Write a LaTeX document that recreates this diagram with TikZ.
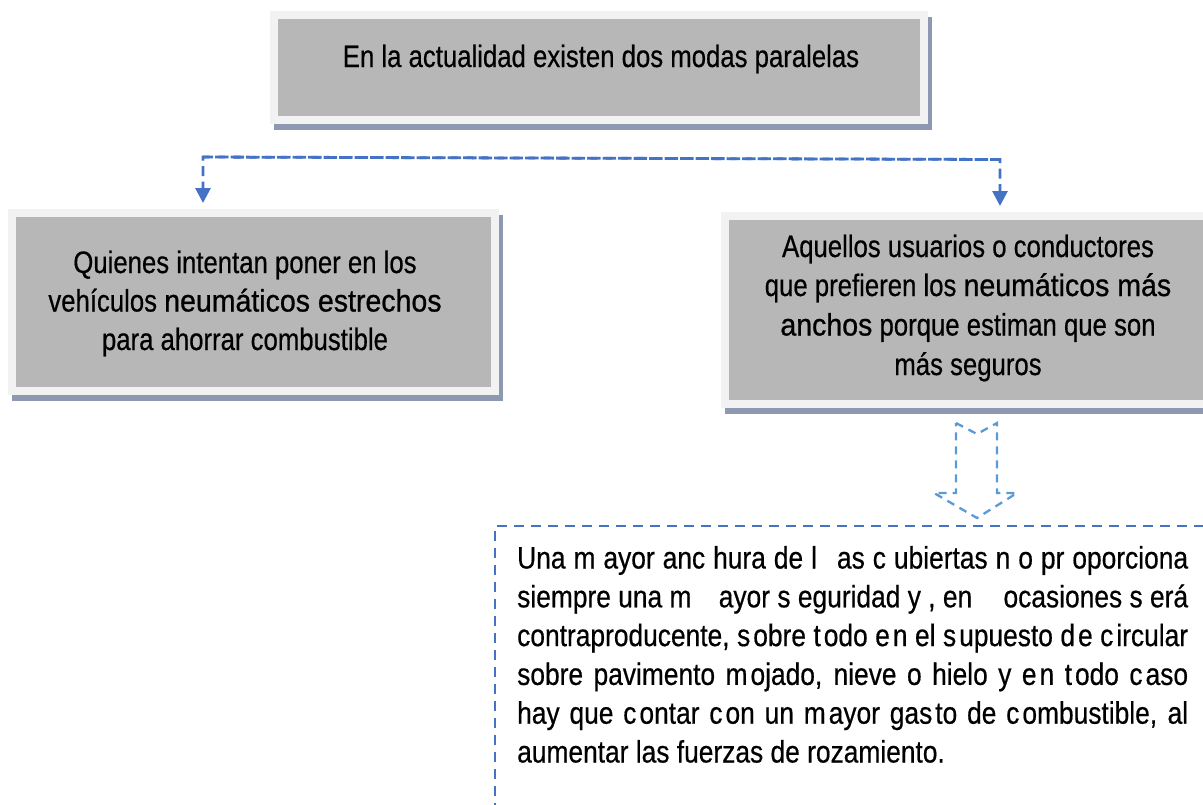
\documentclass[tikz,border=0pt]{standalone}
\usepackage{fontspec}
\setmainfont{Liberation Sans}
\newfontfamily\narf{Liberation Sans}[FakeStretch=0.83,FakeBold=0.5]
\newfontfamily\widf{Liberation Sans}[FakeStretch=0.92,FakeBold=0.8]
\newfontfamily\botf{Liberation Sans}[FakeStretch=0.85,FakeBold=0.5]
\usetikzlibrary{arrows.meta}
\definecolor{boxgray}{RGB}{183,183,183}
\definecolor{boxlight}{RGB}{242,242,242}
\definecolor{shadowc}{RGB}{141,153,176}
\definecolor{connblue}{RGB}{68,114,196}
\definecolor{arrowblue}{RGB}{91,155,213}
\newcommand\sg{\kern3pt}
\begin{document}
\begin{tikzpicture}[x=1pt,y=-1pt,
  graybox/.style={rectangle, fill=boxgray, draw=boxlight, line width=8pt, inner sep=0pt,
    preaction={draw=shadowc, fill=shadowc, line width=8pt, transform canvas={xshift=4pt,yshift=-6pt}}},
  txt/.style={inner sep=0pt, anchor=base, font=\narf\fontsize{31}{37}\selectfont},
  bottxt/.style={inner sep=0pt, anchor=base west, font=\botf\fontsize{31}{37}\selectfont},
  conn/.style={draw=connblue, line width=2.8pt, dash pattern=on 10pt off 5.5pt,
    -{Triangle[width=15pt,length=15pt]}},
  hollow/.style={draw=arrowblue, line width=2.3pt, dash pattern=on 8pt off 6pt, line join=miter},
  dbox/.style={draw=connblue, line width=2.8pt, dash pattern=on 10pt off 7pt}
]
\useasboundingbox (0,0) rectangle (1203,804);
\clip (0,0) rectangle (1203,804);

% top box
\node[graybox, minimum width=650pt, minimum height=105pt] (top) at (599,67.5) {};
\node[txt] (toptxt) at (601,67) {En la actualidad existen dos modas paralelas};

% left box
\node[graybox, minimum width=483pt, minimum height=178pt] (lbox) at (253.5,302) {};
\node[txt] (l1) at (245,273) {Quienes intentan poner en los};
\node[txt] (l2) at (245,311.5) {vehículos {\widf neumáticos estrechos}};
\node[txt] (l3) at (245,350) {para ahorrar combustible};

% right box
\node[graybox, minimum width=486pt, minimum height=188pt] (rbox) at (968,310) {};
\node[txt] (r1) at (968,257) {Aquellos usuarios o conductores};
\node[txt] (r2) at (968,296) {que prefieren los {\widf neumáticos más}};
\node[txt] (r3) at (968,335.5) {{\widf anchos} porque estiman que son};
\node[txt] (r4) at (968,375) {más seguros};

% dashed connector
\coordinate (c0) at (203,157);
\coordinate (c1) at (1000,159.5);
\draw[conn] (c1) -- (c0) -- ([yshift=6pt]c0 |- lbox.north);
\draw[conn] (c0) -- (c1) -- ([yshift=6pt]c1 |- rbox.north);

% hollow dashed arrow
\coordinate (h1) at (956,423);
\coordinate (h2) at (977,434);
\coordinate (h3) at (997,423);
\coordinate (h4) at (997,493);
\coordinate (h5) at (1017,493);
\coordinate (h6) at (977,518);
\coordinate (h7) at (934,493);
\coordinate (h8) at (956,493);
\draw[hollow] (h1) -- (h2) -- (h3) -- (h4) -- (h5) -- (h6) -- (h7) -- (h8) -- cycle;

% bottom dashed box
\coordinate (b0) at (495,830);
\coordinate (b1) at (495,526);
\coordinate (b2) at (1230,526);
\draw[dbox] (b0) -- (b1) -- (b2);

\node[bottxt] (t1) at (517,568.5) {\makebox[671pt][s]{Una m ayor anc hura de l\hspace{12pt} as c ubiertas n o pr oporciona}};
\node[bottxt] (t2) at (517,607.3) {\makebox[671pt][s]{siempre una m\hspace{20pt} ayor s eguridad y , en\hspace{24pt} ocasiones s erá}};
\node[bottxt] (t3) at (517,646.1) {\makebox[671pt][s]{contraproducente, s\sg obre t\sg odo e\sg n el s\sg upuesto d\sg e c\sg ircular}};
\node[bottxt] (t4) at (517,684.9) {\makebox[671pt][s]{sobre pavimento m\sg ojado, nieve o hielo y e\sg n t\sg odo c\sg aso}};
\node[bottxt] (t5) at (517,723.7) {\makebox[671pt][s]{hay que c\sg ontar c\sg on un m\sg ayor gas\sg to de c\sg ombustible, al}};
\node[bottxt] (t6) at (517,762.5) {aumentar las fuerzas de rozamiento.};
\end{tikzpicture}
\end{document}
